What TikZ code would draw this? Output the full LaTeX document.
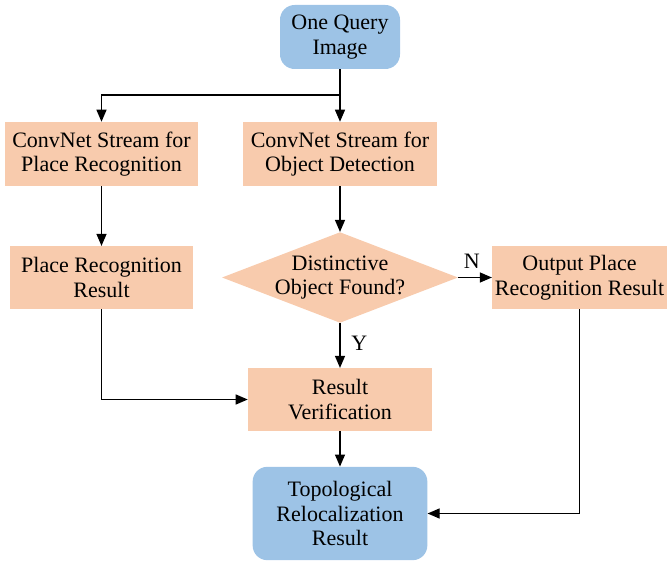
\documentclass[tikz,border=0pt]{standalone}
\usepackage{fontspec}
\setmainfont{Liberation Serif}
\usepackage{tikz}
\usetikzlibrary{arrows.meta,shapes.geometric}

\definecolor{boxorange}{HTML}{F8CBAD}
\definecolor{boxblue}{HTML}{9DC3E6}

\tikzset{
  every node/.style={font=\fontsize{16.5}{18.5}\selectfont, align=center, inner sep=0pt},
  procbox/.style={rectangle, fill=boxorange},
  termbox/.style={rectangle, rounded corners=11pt, fill=boxblue},
  decbox/.style={diamond, fill=boxorange, aspect=2.6, inner sep=-3pt},
  flow/.style={-{Triangle[length=9pt,width=7.5pt]}, line width=0.9pt},
}

\begin{document}
\begin{tikzpicture}[x=0.75pt, y=-0.75pt]
    \useasboundingbox (0,0) rectangle (669,563) ;
    \node[termbox, minimum width=90pt, minimum height=48pt] (query) at (340,37) {One Query\\Image} ;
    \node[procbox, minimum width=145pt, minimum height=48pt] (streamplace) at (101.5,154) {ConvNet Stream for\\Place Recognition} ;
    \node[procbox, minimum width=145pt, minimum height=48pt] (streamobj) at (340,154) {ConvNet Stream for\\Object Detection} ;
    \node[procbox, minimum width=137pt, minimum height=47pt] (placeres) at (101.5,277.5) {Place Recognition\\Result} ;
    \node[decbox, minimum width=177pt, minimum height=68pt] (found) at (340,277.5) {Distinctive\\Object Found?} ;
    \node[procbox, minimum width=131pt, minimum height=47pt] (outplace) at (579.5,277.5) {Output Place\\Recognition Result} ;
    \node[procbox, minimum width=138pt, minimum height=47pt] (verify) at (340,399.5) {Result\\Verification} ;
    \node[termbox, minimum width=131pt, minimum height=70pt] (topo) at (340,513.5) {Topological\\Relocalization\\Result} ;
    \coordinate (split) at (340,95) ;
    \draw[flow] (query.south) -- (streamobj.north) ;
    \draw[flow] (split) -| (streamplace.north) ;
    \draw[flow] (streamplace.south) -- (placeres.north) ;
    \draw[flow] (streamobj.south) -- (found.north) ;
    \draw[flow] (found.east) -- (outplace.west) node[pos=0.4, above=6pt] {N} ;
    \draw[flow] (found.south) -- (verify.north) node[pos=0.45, right=8pt] {Y} ;
    \draw[flow] (placeres.south) |- (verify.west) ;
    \draw[flow] (verify.south) -- (topo.north) ;
    \draw[flow] (outplace.south) |- (topo.east) ;
\end{tikzpicture}
\end{document}
